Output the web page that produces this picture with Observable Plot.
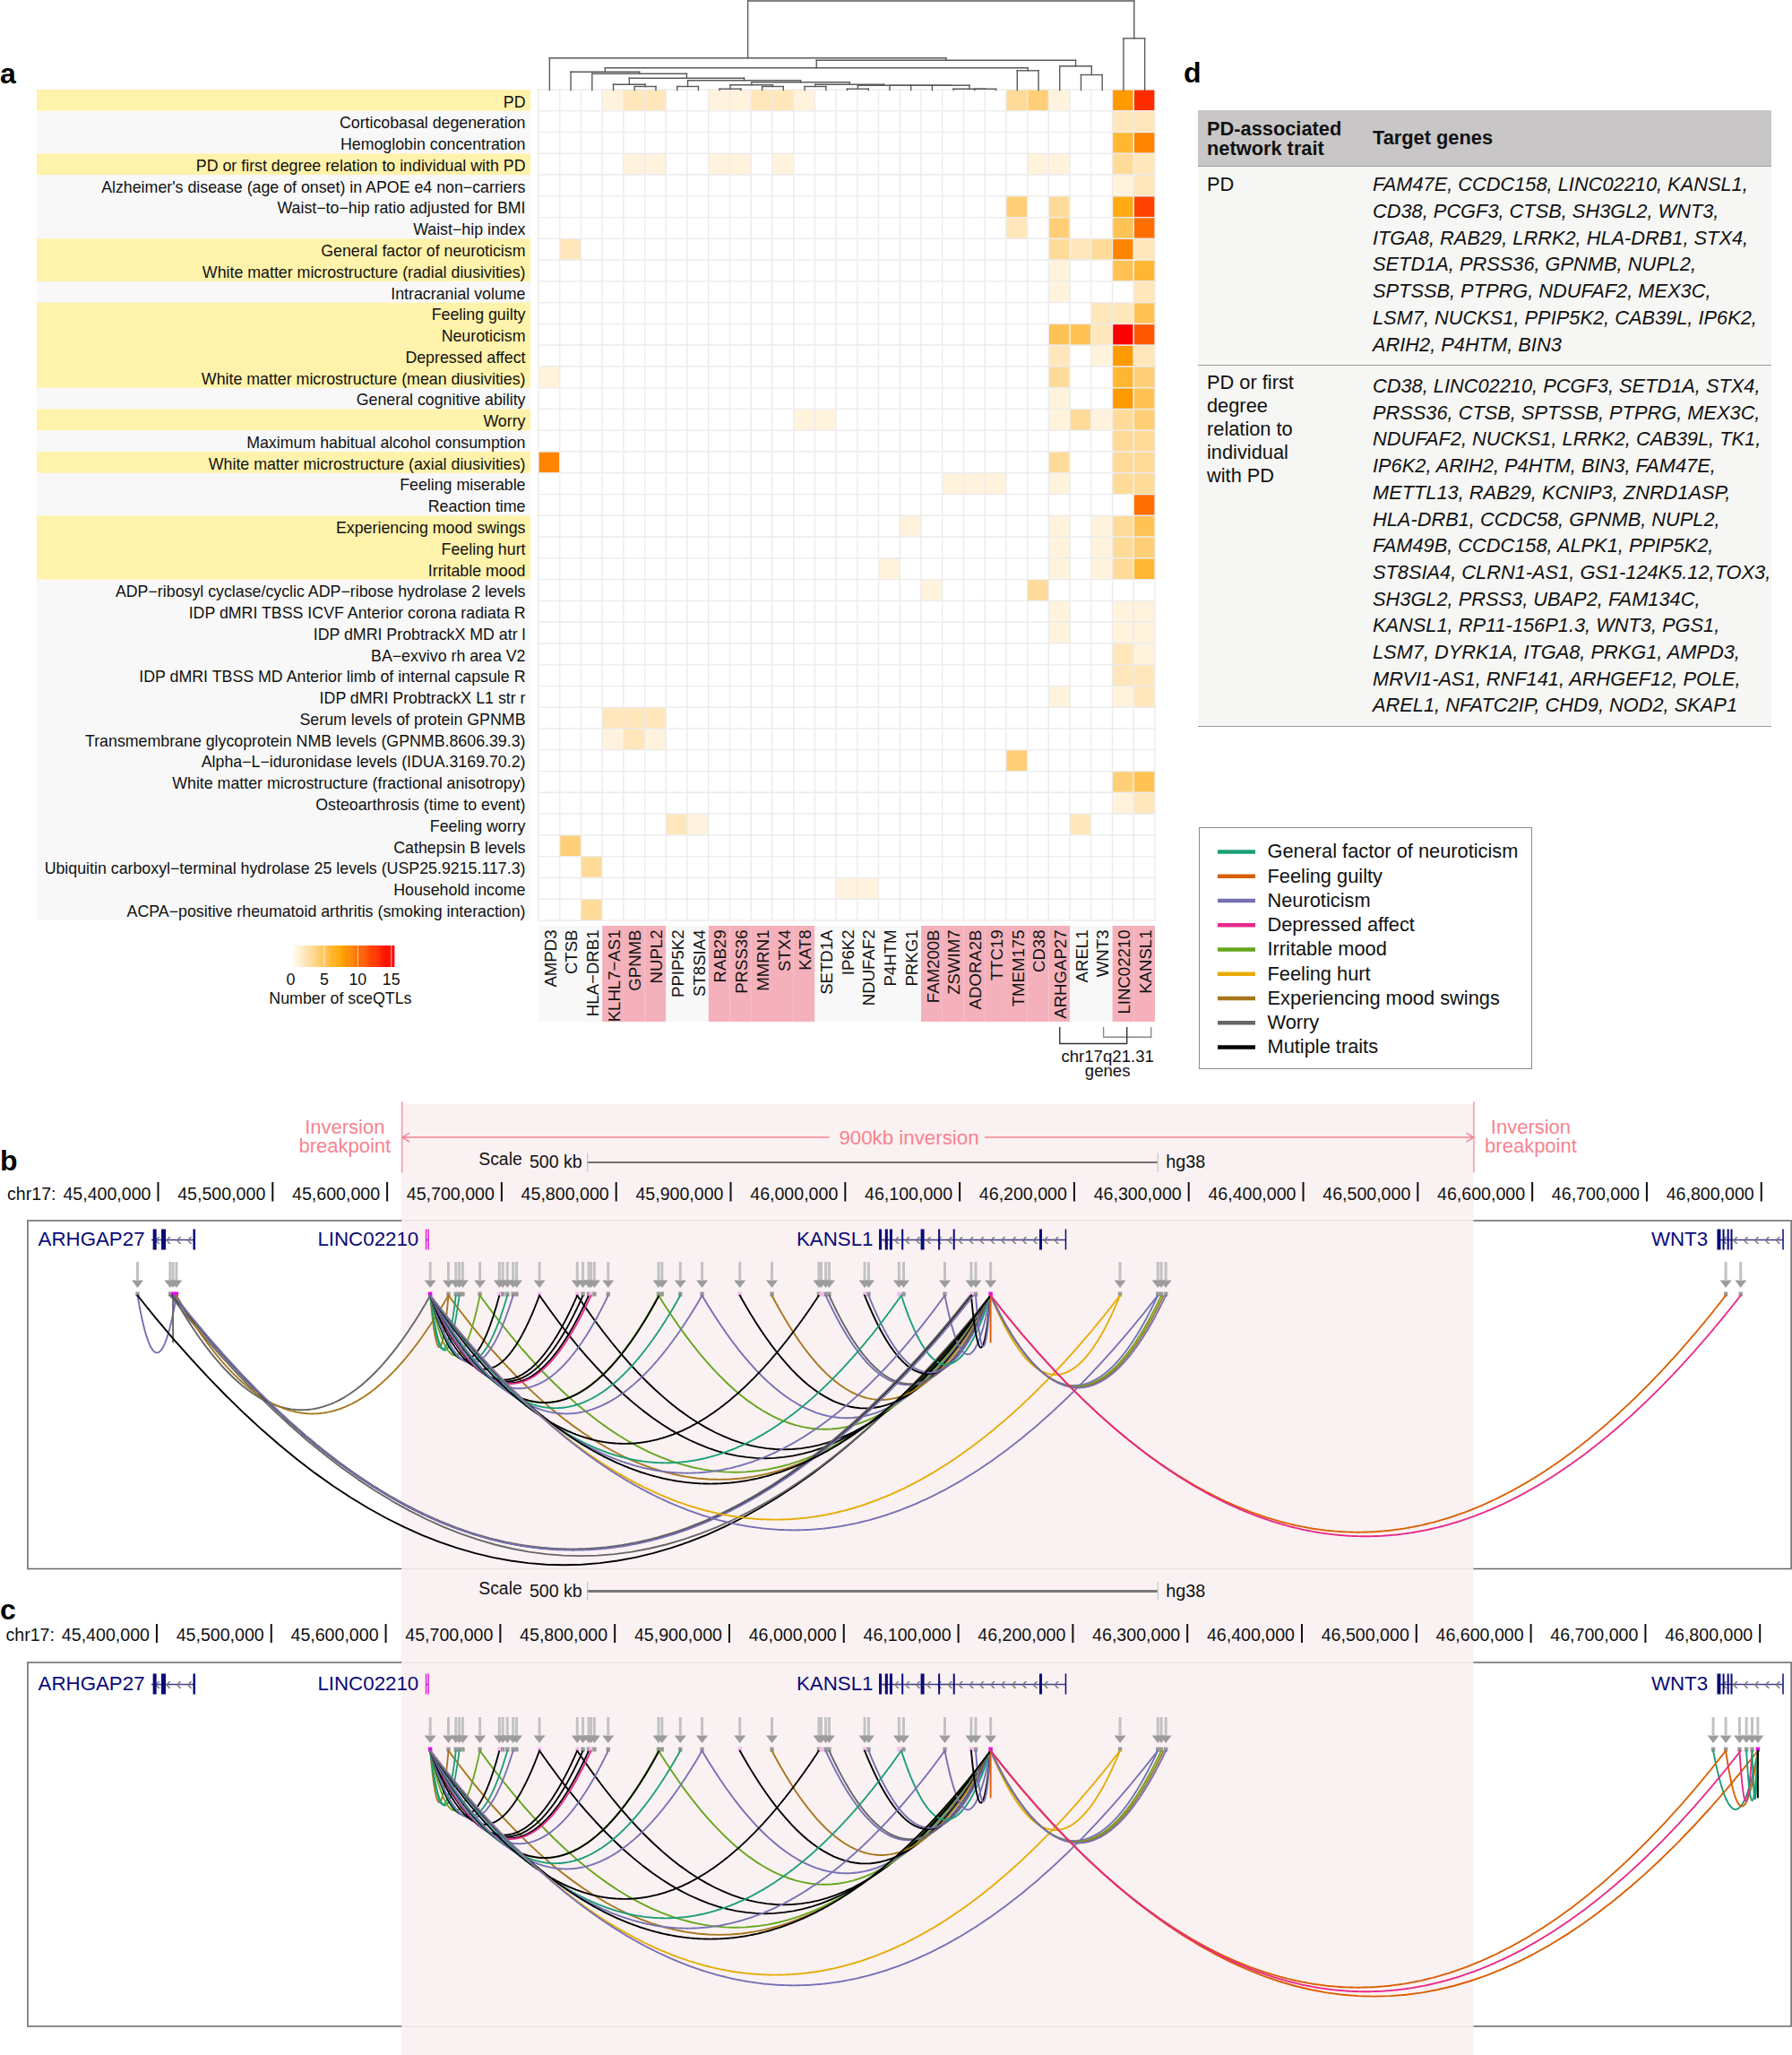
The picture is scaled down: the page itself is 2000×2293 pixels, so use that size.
<!DOCTYPE html>
<html><head><meta charset="utf-8">
<script src="https://cdn.jsdelivr.net/npm/d3@7"></script>
<script src="https://cdn.jsdelivr.net/npm/@observablehq/plot@0.6"></script>
<style>
html,body{margin:0;padding:0;background:#fff}
#page{position:relative;width:2000px;height:2293px;overflow:hidden;font-family:"Liberation Sans",Arial,sans-serif;color:#111}
#page svg{position:absolute;background:transparent;overflow:visible}
.abs{position:absolute;white-space:nowrap}
</style></head><body><div id="page"></div>
<script>
// ---------- panel a data ----------
const traits=["PD","Corticobasal degeneration","Hemoglobin concentration","PD or first degree relation to individual with PD","Alzheimer's disease (age of onset) in APOE e4 non−carriers","Waist−to−hip ratio adjusted for BMI","Waist−hip index","General factor of neuroticism","White matter microstructure (radial diusivities)","Intracranial volume","Feeling guilty","Neuroticism","Depressed affect","White matter microstructure (mean diusivities)","General cognitive ability","Worry","Maximum habitual alcohol consumption","White matter microstructure (axial diusivities)","Feeling miserable","Reaction time","Experiencing mood swings","Feeling hurt","Irritable mood","ADP−ribosyl cyclase/cyclic ADP−ribose hydrolase 2 levels","IDP dMRI TBSS ICVF Anterior corona radiata R","IDP dMRI ProbtrackX MD atr l","BA−exvivo rh area V2","IDP dMRI TBSS MD Anterior limb of internal capsule R","IDP dMRI ProbtrackX L1 str r","Serum levels of protein GPNMB","Transmembrane glycoprotein NMB levels (GPNMB.8606.39.3)","Alpha−L−iduronidase levels (IDUA.3169.70.2)","White matter microstructure (fractional anisotropy)","Osteoarthrosis (time to event)","Feeling worry","Cathepsin B levels","Ubiquitin carboxyl−terminal hydrolase 25 levels (USP25.9215.117.3)","Household income","ACPA−positive rheumatoid arthritis (smoking interaction)"];
const networkTraits=["PD","PD or first degree relation to individual with PD","General factor of neuroticism","White matter microstructure (radial diusivities)","Feeling guilty","Neuroticism","Depressed affect","White matter microstructure (mean diusivities)","Worry","White matter microstructure (axial diusivities)","Experiencing mood swings","Feeling hurt","Irritable mood"];
const genes=["AMPD3","CTSB","HLA−DRB1","KLHL7−AS1","GPNMB","NUPL2","PPIP5K2","ST8SIA4","RAB29","PRSS36","MMRN1","STX4","KAT8","SETD1A","IP6K2","NDUFAF2","P4HTM","PRKG1","FAM200B","ZSWIM7","ADORA2B","TTC19","TMEM175","CD38","ARHGAP27","AREL1","WNT3","LINC02210","KANSL1"];
const pdGenes=["KLHL7−AS1","GPNMB","NUPL2","RAB29","PRSS36","MMRN1","STX4","KAT8","FAM200B","ZSWIM7","ADORA2B","TTC19","TMEM175","CD38","ARHGAP27","LINC02210","KANSL1"];
// one row per trait: [gene index, number of sceQTLs]
const sceqtlCounts=[
[[3,1],[4,2],[5,2],[8,1],[9,1],[10,2],[11,2],[12,1],[22,3],[23,4],[24,1],[27,8],[28,13]],
[[27,2],[28,2]],
[[27,6],[28,9]],
[[4,1],[5,1],[8,1],[9,1],[11,1],[23,1],[24,1],[27,3],[28,2]],
[[27,1],[28,2]],
[[22,4],[24,3],[27,7],[28,12]],
[[22,2],[24,4],[27,5],[28,10]],
[[1,2],[24,3],[25,2],[26,3],[27,9],[28,2]],
[[24,1],[27,5],[28,6]],
[[24,1],[28,2]],
[[26,2],[27,2],[28,5]],
[[24,5],[25,5],[26,2],[27,15],[28,11]],
[[24,2],[26,1],[27,8],[28,2]],
[[0,1],[24,3],[27,6],[28,4]],
[[24,1],[27,8],[28,5]],
[[12,1],[13,1],[24,1],[25,3],[26,1],[27,3],[28,4]],
[[27,3],[28,3]],
[[0,9],[24,3],[27,3],[28,3]],
[[19,1],[20,1],[21,1],[24,1],[27,3],[28,3]],
[[28,10]],
[[17,1],[24,1],[26,1],[27,3],[28,5]],
[[24,1],[26,1],[27,3],[28,4]],
[[16,1],[24,1],[26,1],[27,3],[28,6]],
[[18,1],[23,3]],
[[24,1],[27,1],[28,1]],
[[24,1],[27,1],[28,1]],
[[27,2],[28,1]],
[[27,2],[28,2]],
[[24,1],[27,1],[28,2]],
[[3,2],[4,2],[5,2]],
[[3,1],[4,2],[5,1]],
[[22,4]],
[[27,4],[28,5]],
[[27,1],[28,2]],
[[6,2],[7,1],[25,2]],
[[1,4]],
[[2,3]],
[[14,1],[15,1]],
[[2,3]]];
// dendrogram: [merge height, left, right]; a number is a leaf (gene index)
const dendrogram=[99.5,
 [35.7,0,
  [33.3,
   [24.7,
    [20.3,1,
     [18.3,2,
      [13.3,
       [6.3,3,[4,4,5]],
       [10.7,
        [4,6,7],
        [8.7,
         [5.7,[1.3,8,9],[4,10,11]],
         [6.3,
          [4,12,13],
          [5.3,[1.3,14,15],[5.3,16,[5.3,17,[5.3,18,[1.3,19,[1.2,20,21]]]]]]]]]]]],
    [21.7,22,23]],
   [26.7,24,[17,25,26]]]],
 [57.7,27,28]];
const heatLegendTicks=[0,5,10,15];
const heatDomain=[0,7.5,15], heatRange=["#ffffff","#ffa500","#ff0000"];

// ---------- panel d data ----------
const tableHeaderTrait=["PD-associated","network trait"];
const tableHeaderGenes="Target genes";
const pdTrait=["PD"];
const pdTargets=["FAM47E, CCDC158, LINC02210, KANSL1,","CD38, PCGF3, CTSB, SH3GL2, WNT3,","ITGA8, RAB29, LRRK2, HLA-DRB1, STX4,","SETD1A, PRSS36, GPNMB, NUPL2,","SPTSSB, PTPRG, NDUFAF2, MEX3C,","LSM7, NUCKS1, PPIP5K2, CAB39L, IP6K2,","ARIH2, P4HTM, BIN3"];
const relTrait=["PD or first","degree","relation to","individual","with PD"];
const relTargets=["CD38, LINC02210, PCGF3, SETD1A, STX4,","PRSS36, CTSB, SPTSSB, PTPRG, MEX3C,","NDUFAF2, NUCKS1, LRRK2, CAB39L, TK1,","IP6K2, ARIH2, P4HTM, BIN3, FAM47E,","METTL13, RAB29, KCNIP3, ZNRD1ASP,","HLA-DRB1, CCDC58, GPNMB, NUPL2,","FAM49B, CCDC158, ALPK1, PPIP5K2,","ST8SIA4, CLRN1-AS1, GS1-124K5.12,TOX3,","SH3GL2, PRSS3, UBAP2, FAM134C,","KANSL1, RP11-156P1.3, WNT3, PGS1,","LSM7, DYRK1A, ITGA8, PRKG1, AMPD3,","MRVI1-AS1, RNF141, ARHGEF12, POLE,","AREL1, NFATC2IP, CHD9, NOD2, SKAP1"];

// ---------- legend ----------
const lineTraits=["General factor of neuroticism","Feeling guilty","Neuroticism","Depressed affect","Irritable mood","Feeling hurt","Experiencing mood swings","Worry","Mutiple traits"];
const lineColors=["#1B9E77","#D95F02","#7570B3","#E7298A","#66A61E","#E6AB02","#A6761D","#666666","#000000"];

// ---------- panels b, c data (positions in kb on chr17) ----------
const positionTicks=[45400,45500,45600,45700,45800,45900,46000,46100,46200,46300,46400,46500,46600,46700,46800];
const inversion=[45613,46549];
const scaleBar=[45775,46273];
const geneBodies=[{name:"ARHGAP27",from:45394.5,to:45432,labelAt:45388.3},{name:"LINC02210",from:45634,to:45636,labelAt:45627.5},{name:"KANSL1",from:46030.7,to:46192.6,labelAt:46024.4},{name:"WNT3",from:46763,to:46819,labelAt:46753.3}];
const exonPos=[45397,45404.7,45431.5,45634,45636,46030.7,46036,46040,46050,46067.5,46082,46095,46170.7,46192.6,46763,46767,46771,46774,46819];
const exonWidth=[4,5,2.5,1.5,1.5,3,3,3,2,4,2,2,3,1.5,4,2,2,2,1.5];
const exonColor=["n","n","n","m","m","n","n","n","n","n","n","n","n","n","n","n","n","n","n"];
const anchorsLeftB=[45382,45410.5,45413,45416];
const anchorsWnt3B=[46769,46782];
const anchorsWnt3C=[46758,46769,46781,46787,46792,46797];
const anchorsShared=[45637.6,45653.5,45660,45663,45666,45681,45698,45701,45705,45710,45713,45733,45766,45771,45776,45778,45781,45793,45837,45840,45856,45875,45908,45936,45977,45979,45983,45986,46017,46020.5,46047,46051,46087,46110,46114,46127,46240,46273,46276,46280];
const anchorsStrong=[45413,45416,45637.6,46127,46797];
const anchorsPale=[45698,45733,45766,45778,45908,45979,46017,46047,46110];
const A=45637.6,K=46127;
// [start, end, legend trait index]
const dottedShared=[[A,45653.5,6],[A,45660,0],[A,45663,0],[A,45681,4],[A,45698,8],[A,45705,0],[A,45710,2],[A,45733,8],[A,45766,8],[A,45771,8],[A,45776,8],[A,45778,3],[A,45793,2],[A,45837,4],[A,45837.5,8],[A,45856,0],[A,45875,2],[A,45977,8],[A,46049,0],[A,46087,2],[A,46127,8],[A,46240,5],[A,46273,2],[K,46240,5],[K,46273,2],[K,46276,4],[K,46278,6],[K,46280,2],[K,46769,1],[K,46782,3]];
const solidShared=[[45653.5,K,6],[45681,K,4],[45733,K,8],[45766,K,8],[45837,K,4],[45875,K,2],[45908,K,8],[45936,K,6],[45983,K,2],[45986,K,7],[46017,K,8],[46020.5,K,2],[46049,K,0],[46087,K,2],[46110,K,8],[46114,K,2],[K,K,1]];
const dottedB=[[45416,45653.5,6],[45413,46110,8],[45414,46109,7],[45413.5,46112,2]];
const solidB=[[45382,45416,2],[45413,45413,7],[45413,A,7],[45382,K,8],[45410.5,K,7]];
const solidC=[[K,46797,1],[46758,46797,0],[46769,46797,1],[46781,46792,3],[46787,46797,0],[46792,46797,0],[46797,46797,8]];
// arc depth in pixels for a given span in kb
const arcSpanKb=[0,28,44,98,139,201,338,489,743];
const arcDepthPx=[52,62,67,83,98,120,165,210,300];

// ---------- helpers ----------
const page=document.getElementById("page");
const FONT='"Liberation Sans",Arial,sans-serif';
function place(svg,left,top){svg.style.left=left+"px";svg.style.top=top+"px";page.appendChild(svg);return svg;}
function label(txt,left,top,style){const d=document.createElement("div");d.className="abs";d.textContent=txt;d.style.left=left+"px";d.style.top=top+"px";Object.assign(d.style,style||{});page.appendChild(d);return d;}
function box(left,top,w,h,style){const d=document.createElement("div");d.className="abs";Object.assign(d.style,{left:left+"px",top:top+"px",width:w+"px",height:h+"px"},style);page.appendChild(d);return d;}
const base={marginTop:0,marginRight:0,marginBottom:0,marginLeft:0,style:{fontFamily:FONT,background:"transparent"}};

// ---------- panel a: trait label bands ----------
const isNetwork=t=>networkTraits.includes(t);
place(Plot.plot({...base,width:601,height:927,
 x:{domain:[0,1],range:[41,592],axis:null},
 y:{type:"band",domain:traits,padding:0,round:false,axis:null},
 marks:[
  Plot.barX(traits,{x1:()=>0,x2:()=>1,y:d=>d,fill:d=>isNetwork(d)?"#FFF2AA":"#F8F8F8"}),
  Plot.text(traits,{x:()=>1,y:d=>d,text:d=>d,dx:-6,dy:1.5,textAnchor:"end",fontSize:17.8,fill:"#111"})
 ]}),0,100);

// ---------- panel a: heat cells ----------
const heatCells=[];
traits.forEach((t,r)=>{const row=new Map(sceqtlCounts[r]);genes.forEach((g,c)=>heatCells.push({trait:t,gene:g,n:row.get(c)||0}));});
place(Plot.plot({...base,width:692,height:931,marginLeft:2,marginRight:2,marginTop:2,marginBottom:2,
 x:{type:"band",domain:genes,padding:0,round:false,axis:null},
 y:{type:"band",domain:traits,padding:0,round:false,axis:null},
 color:{type:"linear",domain:heatDomain,range:heatRange,interpolate:"rgb"},
 marks:[Plot.cell(heatCells,{x:"gene",y:"trait",fill:"n",stroke:"#ececec",strokeWidth:1.3})]}),599,98);

// ---------- dendrogram ----------
const dendroSegs=[];
(function walk(n){ if(typeof n==="number")return {x:n,h:0};
 const l=walk(n[1]),r=walk(n[2]),h=n[0];
 dendroSegs.push({x1:l.x,x2:r.x,y1:h,y2:h},{x1:l.x,x2:l.x,y1:l.h,y2:h},{x1:r.x,x2:r.x,y1:r.h,y2:h});
 return {x:(l.x+r.x)/2,h};})(dendrogram);
place(Plot.plot({...base,width:692,height:100,
 x:{type:"linear",domain:[-0.5,28.5],range:[2,690],axis:null},
 y:{type:"linear",domain:[0,100],range:[100,0],axis:null},
 marks:[Plot.link(dendroSegs,{x1:"x1",x2:"x2",y1:"y1",y2:"y2",stroke:"#5a5a5a",strokeWidth:1.4,strokeLinecap:"square"})]}),599,0);

// ---------- gene label band ----------
place(Plot.plot({...base,width:692,height:107,marginLeft:2,marginRight:2,
 x:{type:"band",domain:genes,padding:0,round:false,axis:null},
 marks:[
  Plot.cell(genes,{x:d=>d,fill:d=>pdGenes.includes(d)?"#F4B1BB":"#F8F8F8"}),
  Plot.text(genes,{x:d=>d,text:d=>d,frameAnchor:"top",rotate:-90,textAnchor:"end",dx:-6,dy:4,fontSize:18.6,fill:"#111"})
 ]}),599,1033);

// ---------- chr17q21.31 bracket ----------
const bracketBlack=[[24,0],[24,1],[27.16,1],[27.16,0]].map(([x,y])=>({x,y}));
const bracketGray=[[26.06,0],[26.06,0.6],[28.3,0.6],[28.3,0]].map(([x,y])=>({x,y}));
place(Plot.plot({...base,width:692,height:70,
 x:{type:"linear",domain:[-0.5,28.5],range:[2,690],axis:null},
 y:{type:"linear",domain:[0,1],range:[0,18],axis:null},
 marks:[
  Plot.line(bracketGray,{x:"x",y:"y",stroke:"#888",strokeWidth:1.4}),
  Plot.line(bracketBlack,{x:"x",y:"y",stroke:"#333",strokeWidth:1.4}),
  Plot.text(["chr17q21.31"],{x:()=>26.25,y:()=>1,dy:15,text:d=>d,fontSize:18.6,fill:"#111"}),
  Plot.text(["genes"],{x:()=>26.25,y:()=>1,dy:31,text:d=>d,fontSize:18.6,fill:"#111"})
 ]}),599,1146);

// ---------- heat legend ----------
place(Plot.plot({...base,width:200,height:75,
 x:{type:"linear",domain:[0,15.5],range:[24,140],axis:null},
 y:{type:"linear",domain:[0,1],range:[0,24],axis:null},
 color:{type:"linear",domain:heatDomain,range:heatRange,interpolate:"rgb"},
 marks:[
  Plot.rect(d3.range(0,15.5,0.25),{x1:d=>d,x2:d=>d+0.3,y1:()=>0,y2:()=>1,fill:d=>Math.min(d,15)}),
  Plot.ruleX(heatLegendTicks.slice(1),{x:d=>d,y1:0,y2:1,stroke:"#fff",strokeOpacity:.7,strokeWidth:1}),
  Plot.text(heatLegendTicks,{x:d=>d,y:()=>1,dy:14,text:d=>String(d),fontSize:17.8,fill:"#111"}),
  Plot.text(["Number of sceQTLs"],{x:()=>7.4,y:()=>1,dy:35,text:d=>d,fontSize:17.8,fill:"#111"})
 ]}),300,1055);

// ---------- panel d table ----------
const TXT={fontSize:"21.8px",lineHeight:"24px"};
box(1337,122.5,640,62.5,{background:"#C8C6C6"});
box(1337,185,640,222,{background:"#F6F6F4"});
box(1337,407,640,403,{background:"#F6F6F4"});
box(1337,407,640,1,{background:"#9a9a9a"});
box(1337,810,640,1,{background:"#9a9a9a"});
box(1337,185,640,1,{background:"#9a9a9a"});
tableHeaderTrait.forEach((t,i)=>label(t,1347,131.5+i*22,{...TXT,fontWeight:"bold"}));
label(tableHeaderGenes,1532,142,{...TXT,fontWeight:"bold"});
pdTrait.forEach((t,i)=>label(t,1347,193.5+i*26.1,TXT));
pdTargets.forEach((t,i)=>label(t,1532,194+i*29.8,{...TXT,fontStyle:"italic"}));
relTrait.forEach((t,i)=>label(t,1347,414.5+i*26.1,TXT));
relTargets.forEach((t,i)=>label(t,1532,419+i*29.7,{...TXT,fontStyle:"italic"}));

// ---------- arc legend ----------
box(1338,923,370,268,{border:"1.4px solid #8a8a8a",background:"#fff"});
place(Plot.plot({...base,width:372,height:270,
 x:{type:"linear",domain:[0,1],range:[21,63],axis:null},
 y:{type:"point",domain:lineTraits,range:[27,245],padding:0,round:false,axis:null},
 marks:[
  Plot.ruleY(lineTraits,{y:d=>d,x1:0,x2:1,stroke:(d,i)=>lineColors[i],strokeWidth:4.5}),
  Plot.text(lineTraits,{y:d=>d,x:()=>1,dx:13,text:d=>d,textAnchor:"start",fontSize:21.8,fill:"#111"})
 ]}),1338,923);

// ---------- panels b and c ----------
const depthOf=d3.scaleLinear(arcSpanKb,arcDepthPx);
function arcPoints(list,panel,top,solid){const out=[];list.forEach(([a,b,k],j)=>{const depth=depthOf(Math.abs(b-a));
  for(let i=0;i<=48;i++){const t=i/48;out.push({id:panel+(solid?"s":"d")+j,x:a+(b-a)*t,y:top+depth*4*t*(1-t),c:lineColors[k]});}});return out;}
const TOPB=1445,TOPC=1953;
const dottedPts=[...arcPoints([...dottedB,...dottedShared],"b",TOPB,false),...arcPoints(dottedShared,"c",TOPC,false)];
const solidPts=[...arcPoints([...solidB,...solidShared],"b",TOPB,true),...arcPoints([...solidShared,...solidC],"c",TOPC,true)];
const arrowsB=[...anchorsLeftB,...anchorsShared,...anchorsWnt3B].map(x=>({x,y:TOPB}));
const arrowsC=[...anchorsShared,...anchorsWnt3C].map(x=>({x,y:TOPC}));
const arrows=[...arrowsB,...arrowsC];
const headShape={draw(c){c.moveTo(-6.5,-17);c.lineTo(6.5,-17);c.lineTo(0,-8.5);c.closePath();}};
const markerColor=x=>anchorsStrong.includes(x)?"#F000F0":anchorsPale.includes(x)?"#F6B8F2":"#9a9a9a";
const PINK="#F7838F", NAVY="#0A0A78";
const fmt=d3.format(",");
const trackB=1383,trackC=1879;
const trackRows=[{t:trackB},{t:trackC}];
const geneRows=trackRows.flatMap(r=>geneBodies.map(g=>({...g,t:r.t})));
const exonRows=trackRows.flatMap(r=>exonPos.map((x,i)=>({x,w:exonWidth[i],c:exonColor[i]==="m"?"#E020D8":NAVY,t:r.t})));
const chevrons=geneRows.filter(g=>g.to-g.from>10).flatMap(g=>d3.range(g.from+5,g.to-2,9.3).map(x=>({x,t:g.t})));

const axisRows=[{top:1319,bottom:1340.5,label:1332,shift:0},{top:1812,bottom:1833,label:1824,shift:-1.2}];
const tickRows=axisRows.flatMap(r=>positionTicks.map(p=>({p,xp:p+r.shift,...r})));
const scaleRows=[{y:1296.5,w:1.4,c:"#444",ty:1293},{y:1775,w:3,c:"#777",ty:1772}];

place(Plot.plot({...base,width:2000,height:1073,
 x:{type:"linear",domain:[45262.3,46827.2],range:[0,2000],axis:null},
 y:{type:"linear",domain:[1220,2293],range:[0,1073],axis:null},
 marks:[
  // boxes
  Plot.rect([{y1:1362,y2:1750.5},{y1:1855,y2:2261}],{x1:()=>45286.5,x2:()=>46826.5,y1:"y1",y2:"y2",fill:"#fff",stroke:"#666",strokeWidth:1.5}),
  // inversion band
  Plot.rect([inversion],{x1:d=>d[0],x2:d=>d[1],y1:()=>1232,y2:()=>2293,fill:"#F9EFF1",fillOpacity:.9}),
  // breakpoints and inversion arrow
  Plot.ruleX(inversion,{x:d=>d,y1:()=>1229,y2:()=>1308.5,stroke:PINK,strokeWidth:1.2}),
  Plot.arrow([[45986,inversion[0]],[46122.2,inversion[1]]],{x1:d=>d[0],x2:d=>d[1],y1:()=>1268.6,y2:()=>1268.6,stroke:PINK,strokeWidth:1.5,headLength:9,bend:0}),
  Plot.text(["900kb inversion"],{x:()=>46055.7,y:()=>1269,text:d=>d,fontSize:22.3,fill:PINK}),
  Plot.text(["Inversion","breakpoint"],{x:()=>45563,y:(d,i)=>1257+i*21.5,text:d=>d,fontSize:22,fill:PINK}),
  Plot.text(["Inversion","breakpoint"],{x:()=>46598.7,y:(d,i)=>1257+i*21.5,text:d=>d,fontSize:22,fill:PINK}),
  // scale bars
  Plot.ruleY(scaleRows,{y:"y",x1:()=>scaleBar[0],x2:()=>scaleBar[1],stroke:"c",strokeWidth:"w"}),
  Plot.ruleX(scaleRows.flatMap(r=>scaleBar.map(x=>({x,y:r.y}))),{x:"x",y1:d=>d.y-10,y2:d=>d.y+11,stroke:"#bbb",strokeWidth:1}),
  Plot.text(scaleRows,{x:()=>scaleBar[0],y:"ty",dx:-73,text:()=>"Scale",textAnchor:"end",fontSize:19.4,fill:"#111"}),
  Plot.text(scaleRows,{x:()=>scaleBar[0],y:"y",dx:-6,text:()=>"500 kb",textAnchor:"end",fontSize:19.6,fill:"#111"}),
  Plot.text(scaleRows,{x:()=>scaleBar[1],y:"y",dx:9,text:()=>"hg38",textAnchor:"start",fontSize:19.8,fill:"#111"}),
  // position axes
  Plot.ruleX(tickRows,{x:"xp",y1:"top",y2:"bottom",stroke:"#111",strokeWidth:2}),
  Plot.text(tickRows,{x:"xp",y:"label",dx:-8,text:d=>fmt(d.p*1000),textAnchor:"end",fontSize:19.6,fill:"#111"}),
  Plot.text(axisRows,{x:d=>positionTicks[0]+d.shift,y:"label",dx:-114,text:()=>"chr17:",textAnchor:"end",fontSize:19.6,fill:"#111"}),
  // gene models
  Plot.ruleY(geneRows,{y:"t",x1:"from",x2:"to",stroke:"#3d3d90",strokeWidth:1.6}),
  Plot.text(chevrons,{x:"x",y:"t",text:()=>"‹",fontSize:20,fill:"#777",dy:-1}),
  Plot.ruleX(exonRows,{x:"x",y1:d=>d.t-11.5,y2:d=>d.t+11.5,stroke:"c",strokeWidth:"w"}),
  Plot.text(geneRows,{x:"labelAt",y:"t",dy:-1,text:"name",textAnchor:"end",fontSize:22.3,fill:NAVY}),
  // arrows and anchors
  Plot.ruleX(arrows,{x:"x",y1:d=>d.y-37,y2:d=>d.y-17,stroke:"#c2c2c2",strokeWidth:3}),
  Plot.vector(arrows,{x:"x",y:"y",length:20,anchor:"start",shape:headShape,fill:"#9c9c9c",stroke:"none"}),
  Plot.ruleX(arrows,{x:"x",y1:d=>d.y-3.5,y2:d=>d.y+1.5,stroke:d=>markerColor(d.x),strokeWidth:4.4}),
  // arcs
  Plot.line(solidPts,{x:"x",y:"y",z:"id",stroke:"c",strokeWidth:1.9,curve:"linear"}),
  Plot.line(dottedPts,{x:"x",y:"y",z:"id",stroke:"c",strokeWidth:1.9,strokeDasharray:"1.2 1.1",curve:"linear"})
 ]}),0,1220);

// ---------- panel letters ----------
[["a",0,66],["d",1321,65],["b",0,1279],["c",0,1780]].forEach(([t,x,y])=>label(t,x,y,{fontSize:"32px",lineHeight:"32px",fontWeight:"bold",color:"#000"}));
</script></body></html>
